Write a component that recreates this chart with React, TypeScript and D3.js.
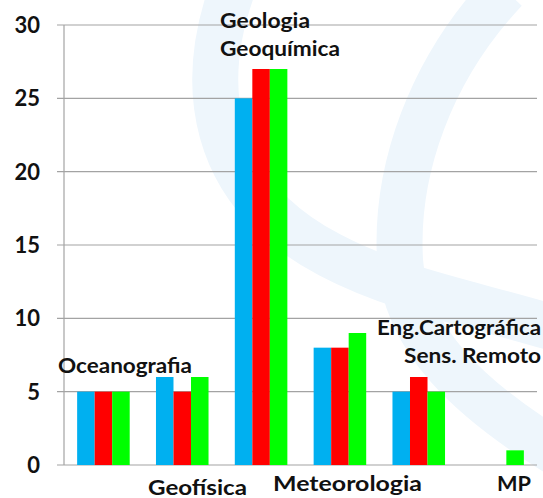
import React from "react";
import * as d3 from "d3";

const categories = ["Oceanografia", "Geofísica", "Geologia", "Meteorologia", "Eng.Cartográfica", "MP"];
const seriesKeys = ["s1", "s2", "s3"];
const seriesColors = ["#00b0f0", "#ff0000", "#00ff00"];
const s1 = [5, 6, 25, 8, 5, 0];
const s2 = [5, 5, 27, 8, 6, 0];
const s3 = [5, 6, 27, 9, 5, 1];
const yTicks = [0, 5, 10, 15, 20, 25, 30];

// label lines, anchor and placement per category
const labels = [
  { lines: ["Oceanografia"], x: 58, y: 373, anchor: "start", widths: [134] },
  { lines: ["Geofísica"], x: 148, y: 495, anchor: "start", widths: [99] },
  { lines: ["Geologia", "Geoquímica"], x: 220, y: 28, anchor: "start", widths: [90, 120] },
  { lines: ["Meteorologia"], x: 273, y: 491, anchor: "start", widths: [149] },
  { lines: ["Eng.Cartográfica", "Sens. Remoto"], x: 541, y: 335, anchor: "end", widths: [164, 137] },
  { lines: ["MP"], x: 531, y: 491, anchor: "end", widths: [34] },
];

const W = 543;
const H = 498;
const margin = { top: 25, right: 6, bottom: 33, left: 64 };

export default function App() {
  const values = [s1, s2, s3];
  const x0 = d3
    .scaleBand<string>()
    .domain(categories)
    .range([margin.left, W - margin.right])
    .paddingInner(1 / 3)
    .paddingOuter(1 / 6);
  const x1 = d3.scaleBand<string>().domain(seriesKeys).range([0, x0.bandwidth()]);
  const y = d3.scaleLinear().domain([0, 30]).range([H - margin.bottom, margin.top]);
  const font = "Lato, 'Open Sans', sans-serif";

  return (
    <svg width={W} height={H} style={{ position: "absolute", left: 0, top: 0, background: "#fff" }}>
      <g fill="none" stroke="#eef6fc" strokeWidth={46} strokeLinecap="butt">
        <path d="M232,-10 C200,80 205,190 330,255 C400,292 480,305 560,330" />
        <path d="M505,-10 C430,70 395,170 400,260 C405,340 470,400 560,455" />
      </g>
      {yTicks.map((t) => (
        <line key={t} x1={margin.left - 7} x2={W - margin.right} y1={y(t)} y2={y(t)} stroke="#a3a3a3" strokeWidth={1.2} />
      ))}
      <line x1={margin.left} x2={margin.left} y1={y(30)} y2={y(0)} stroke="#a3a3a3" strokeWidth={1.2} />
      {yTicks.map((t) => (
        <text key={t} x={40} y={y(t) + 8} textAnchor="end" fontFamily={font} fontWeight="bold" fontSize={22} fill="#111">
          {t}
        </text>
      ))}
      {categories.map((c, i) => (
        <g key={c} transform={`translate(${x0(c)},0)`}>
          {seriesKeys.map((k, j) =>
            values[j][i] > 0 ? (
              <rect key={k} x={x1(k)} y={y(values[j][i])} width={x1.bandwidth()} height={y(0) - y(values[j][i])} fill={seriesColors[j]} />
            ) : null
          )}
        </g>
      ))}
      {labels.map((l, i) => (
        <text key={i} fontFamily={font} fontWeight="bold" fontSize={21} fill="#111" textAnchor={l.anchor}>
          {l.lines.map((ln, k) => (
            <tspan key={k} x={l.x} y={l.y + k * 28} textLength={l.widths[k]} lengthAdjust="spacingAndGlyphs">
              {ln}
            </tspan>
          ))}
        </text>
      ))}
    </svg>
  );
}
